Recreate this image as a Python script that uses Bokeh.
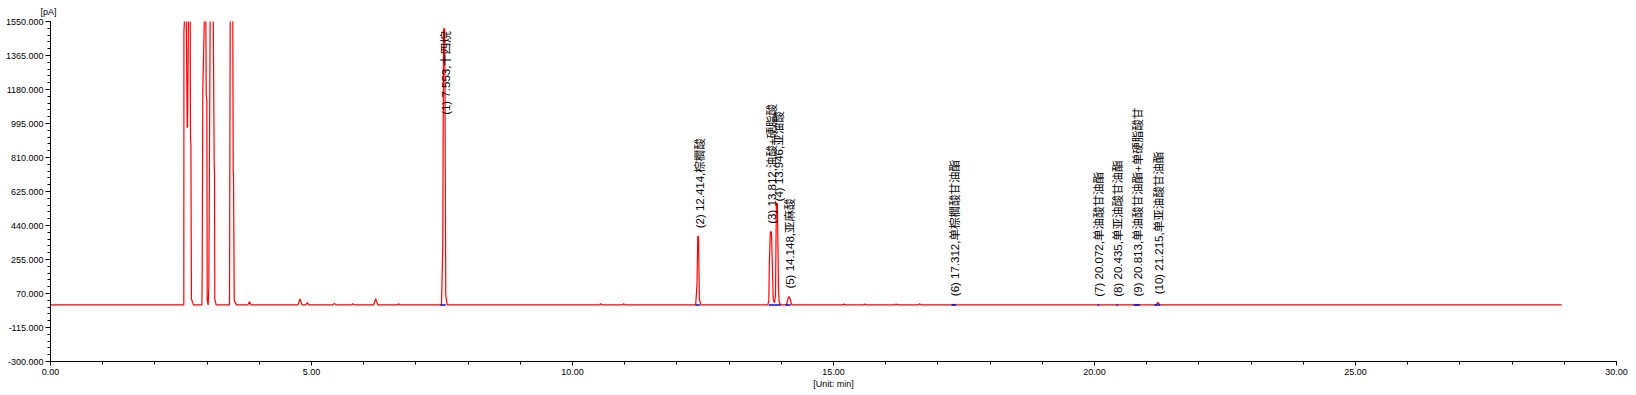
import math
from bokeh.plotting import figure
from bokeh.models import Range1d, FixedTicker, NumeralTickFormatter, ColumnDataSource
from bokeh.embed import file_html
from bokeh.resources import INLINE
from bokeh.core.properties import value

# ---------------- data ----------------
time_min = [
    0.00, 2.554, 2.556, 2.573, 2.600, 2.619, 2.625, 2.644, 2.676, 2.682, 2.690, 2.700, 2.740,
    2.900, 2.906, 2.918, 2.950, 2.975, 2.983, 2.995, 3.002, 3.021, 3.033, 3.059, 3.117, 3.136,
    3.142, 3.148, 3.174,
    3.429, 3.443, 3.492, 3.500, 3.506, 3.520, 3.563,
    3.78, 3.81, 3.84, 4.74, 4.78, 4.82, 4.89, 4.92, 4.95, 5.41, 5.44, 5.47, 5.76, 5.79, 5.82,
    6.19, 6.23, 6.27, 6.64, 6.67, 6.70,
    7.490, 7.515, 7.530, 7.553, 7.572, 7.600,
    10.51, 10.54, 10.57, 10.95, 10.98, 11.01,
    12.360, 12.385, 12.400, 12.414, 12.430, 12.460,
    13.740, 13.761, 13.772, 13.790, 13.812, 13.826, 13.845, 13.870, 13.889, 13.905, 13.925,
    13.946, 13.960, 13.990,
    14.100, 14.130, 14.148, 14.170, 14.200,
    15.17, 15.20, 15.23, 15.57, 15.60, 15.63, 16.17, 16.20, 16.23, 16.62, 16.65, 16.68,
    17.290, 17.312, 17.330,
    21.180, 21.215, 21.250,
    28.95,
]
signal_pa = [
    8, 8, 1490, 1600, 1600, 974, 974, 1600, 1600, 912, 880, 40, 8,
    8, 178, 1182, 1600, 1600, 1155, 1119, 32, 8, 104, 1600, 1600, 783,
    720, 40, 8,
    8, 1600, 1600, 738, 702, 30, 8,
    8, 25, 8, 8, 40, 8, 8, 20, 8, 8, 16, 8, 8, 14, 8,
    8, 42, 8, 8, 14, 8,
    8, 325, 1510, 1510, 60, 8,
    8, 14, 8, 8, 14, 8,
    8, 120, 381, 381, 40, 8,
    8, 30, 249, 406, 406, 249, 40, 20, 60, 560, 560,
    100, 20, 8,
    8, 45, 53, 40, 8,
    8, 12, 8, 8, 12, 8, 8, 12, 8, 8, 14, 8,
    8, 12, 8,
    8, 22, 8,
    8,
]

peak_no = [1, 2, 3, 4, 5, 6, 7, 8, 9, 10]
peak_rt = [7.553, 12.414, 13.812, 13.946, 14.148, 17.312, 20.072, 20.435, 20.813, 21.215]
peak_name = ["十四烷", "棕櫚酸", "油酸+硬脂酸", "亚油酸", "亚麻酸", "单棕櫚酸甘油酯",
             "单油酸甘油酯", "单亚油酸甘油酯", "单油酸甘油酯+单硬脂酸甘", "单亚油酸甘油酯"]
peak_height = [1510, 381, 406, 560, 53, 12, 9, 9, 10, 22]
peak_start = [7.47, 12.36, 13.76, 13.87, 14.08, 17.26, 20.06, 20.42, 20.75, 21.15]
peak_end = [7.57, 12.44, 13.87, 13.985, 14.18, 17.35, 20.09, 20.45, 20.87, 21.26]
baseline_pa = 8

y_ticks = [-300, -115, 70, 255, 440, 625, 810, 995, 1180, 1365, 1550]
x_ticks = [0, 5, 10, 15, 20, 25, 30]

# ---------------- figure ----------------
p = figure(width=1630, height=392,
           x_range=Range1d(0, 30), y_range=Range1d(-300, 1550),
           output_backend="svg", toolbar_location=None,
           min_border_left=50, min_border_right=14,
           min_border_top=21, min_border_bottom=31)
p.outline_line_color = None
p.xgrid.visible = False
p.ygrid.visible = False
p.background_fill_color = "white"
p.border_fill_color = "white"

tick_font = "Liberation Sans"

# unit of the y axis, shown above its top-left end
p.title.text = "[pA]"
p.title.align = "left"
p.title.offset = -10
p.title.standoff = 9
p.title.vertical_align = "bottom"
p.title.text_line_height = 1.0
p.title.text_font = tick_font
p.title.text_font_size = "9px"
p.title.text_font_style = "normal"
p.title.text_color = "black"

xa = p.xaxis[0]
xa.ticker = FixedTicker(ticks=x_ticks, minor_ticks=list(range(0, 31)))
xa.formatter = NumeralTickFormatter(format="0.00")
xa.axis_line_color = "black"
xa.major_tick_line_color = "black"
xa.minor_tick_line_color = "black"
xa.major_tick_in = 0
xa.major_tick_out = 4
xa.minor_tick_in = 0
xa.minor_tick_out = 3
xa.major_label_standoff = 3
xa.major_label_text_font = tick_font
xa.major_label_text_font_size = "9px"
xa.major_label_text_color = "black"
xa.axis_label = "[Unit: min]"
xa.axis_label_standoff = 1
xa.axis_label_text_font = tick_font
xa.axis_label_text_font_size = "9px"
xa.axis_label_text_font_style = "normal"
xa.axis_label_text_color = "black"

ya = p.yaxis[0]
ya.ticker = FixedTicker(ticks=y_ticks, minor_ticks=[-300 + 37 * i for i in range(51)])
ya.formatter = NumeralTickFormatter(format="0.000")
ya.axis_line_color = "black"
ya.major_tick_line_color = "black"
ya.minor_tick_line_color = "black"
ya.major_tick_in = 0
ya.major_tick_out = 5
ya.minor_tick_in = 0
ya.minor_tick_out = 3
ya.major_label_standoff = 2
ya.major_label_text_font = tick_font
ya.major_label_text_font_size = "9px"
ya.major_label_text_color = "black"

# trace
p.line(time_min, signal_pa, line_color="#ff0000", line_width=1.2)

# integration baselines
p.segment(x0=peak_start, y0=[baseline_pa] * len(peak_start),
          x1=peak_end, y1=[baseline_pa] * len(peak_end),
          line_color="#0000ff", line_width=1.5)

# peak labels
label_text = [f"({n}) {rt:.3f},{nm}" for n, rt, nm in zip(peak_no, peak_rt, peak_name)]
y_off = [-8] * len(peak_no)
y_off[0] = 86
y_off[3] = -2
src = ColumnDataSource(dict(x=peak_rt, y=peak_height, t=label_text, yo=y_off))
p.text(x="x", y="y", text="t", source=src, angle=math.pi / 2,
       text_align="left", text_baseline="middle", x_offset=1, y_offset="yo",
       text_font=value("Liberation Sans, Noto Sans CJK SC"), text_font_size="11.5px",
       text_color="black")

open("out.html", "w").write(file_html(p, INLINE))
